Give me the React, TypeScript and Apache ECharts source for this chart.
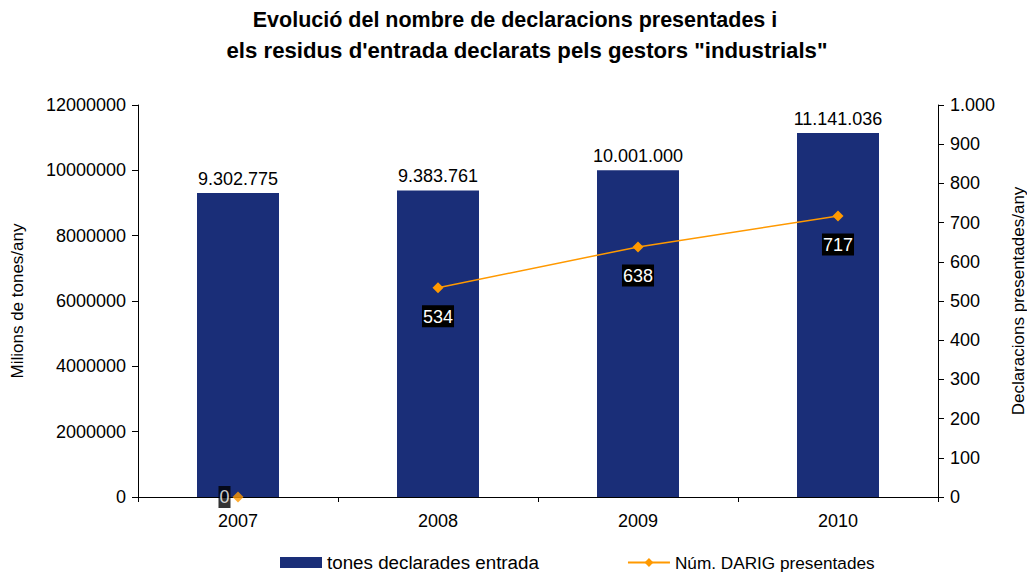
import React, { useEffect, useRef } from "react";
import * as echarts from "echarts";

const categories = ["2007", "2008", "2009", "2010"];
const tonesValues = [9302775, 9383761, 10001000, 11141036];
const darigValues = [0, 534, 638, 717];
const titleLines = [
  "Evolució del nombre de declaracions presentades i",
  "els residus d'entrada declarats pels gestors \"industrials\"",
];
const barName = "tones declarades entrada";
const lineName = "Núm. DARIG presentades";

const dots = (v: number) => String(Math.round(v)).replace(/\B(?=(\d{3})+(?!\d))/g, ".");

export default function App() {
  const ref = useRef<HTMLDivElement>(null);
  useEffect(() => {
    if (!ref.current) return;
    const chart = echarts.init(ref.current, undefined, { renderer: "svg" });
    const font = "'Liberation Sans', Arial, sans-serif";
    const pointLabel = {
      show: true,
      position: "bottom",
      distance: 12,
      color: "#fff",
      backgroundColor: "#000",
      padding: [3, 1, 1, 1],
      fontSize: 18,
      fontFamily: font,
    };
    chart.setOption({
      animation: false,
      textStyle: { fontFamily: font },
      title: [
        {
          text: titleLines[0],
          left: 515,
          textAlign: "center",
          top: 8,
          padding: 0,
          textStyle: { fontFamily: font, fontSize: 21.5, fontWeight: "bold", color: "#000", lineHeight: 24 },
        },
        {
          text: titleLines[1],
          left: 527,
          textAlign: "center",
          top: 38,
          padding: 0,
          textStyle: { fontFamily: font, fontSize: 22.2, fontWeight: "bold", color: "#000", lineHeight: 24 },
        },
      ],
      grid: { left: 138, right: 89, top: 105, bottom: 77, outerBoundsMode: "none", containLabel: false },
      legend: {
        left: 275,
        top: 548,
        itemWidth: 42,
        itemHeight: 11,
        itemGap: 88,
        textStyle: { fontFamily: font, fontSize: 19, color: "#000" },
        data: [
          { name: barName, icon: "rect", textStyle: { fontSize: 18.8 } },
          { name: lineName, textStyle: { fontSize: 17.2 } },
        ],
      },
      xAxis: {
        type: "category",
        data: categories,
        axisLine: { lineStyle: { color: "#000", width: 1 } },
        axisTick: { show: true, interval: 0, length: 5, lineStyle: { color: "#000" } },
        axisLabel: { color: "#000", fontSize: 18, margin: 15, fontFamily: font },
      },
      yAxis: [
        {
          type: "value",
          min: 0,
          max: 12000000,
          interval: 2000000,
          name: "Milions de tones/any",
          nameLocation: "middle",
          nameGap: 112,
          nameTextStyle: { color: "#000", fontSize: 17, fontFamily: font },
          axisLine: { show: true, lineStyle: { color: "#000" } },
          axisTick: { show: true, length: 6, lineStyle: { color: "#000" } },
          axisLabel: { color: "#000", fontSize: 18, margin: 12, fontFamily: font, formatter: (v: number) => String(v) },
          splitLine: { show: false },
        },
        {
          type: "value",
          min: 0,
          max: 1000,
          interval: 100,
          position: "right",
          name: "Declaracions presentades/any",
          nameLocation: "middle",
          nameGap: 72,
          nameRotate: 90,
          nameTextStyle: { color: "#000", fontSize: 17, fontFamily: font },
          axisLine: { show: true, lineStyle: { color: "#000" } },
          axisTick: { show: true, length: 6, lineStyle: { color: "#000" } },
          axisLabel: { color: "#000", fontSize: 18, margin: 12, fontFamily: font, formatter: (v: number) => dots(v) },
          splitLine: { show: false },
        },
      ],
      series: [
        {
          name: barName,
          type: "bar",
          data: tonesValues,
          barWidth: "41%",
          itemStyle: { color: "#1A2E78" },
          label: {
            show: true,
            position: "top",
            distance: 5,
            color: "#000",
            fontSize: 18,
            fontFamily: font,
            formatter: (p: any) => dots(p.value),
          },
        },
        {
          name: lineName,
          type: "line",
          yAxisIndex: 1,
          data: darigValues.map((v, i) => (i === 0 ? "-" : v)),
          symbol: "diamond",
          symbolSize: 11,
          lineStyle: { color: "#FF9900", width: 1.5 },
          itemStyle: { color: "#FF9900" },
          label: pointLabel,
        },
        {
          name: lineName + " (inicial)",
          type: "scatter",
          yAxisIndex: 1,
          data: [[categories[0], darigValues[0]]],
          symbol: "diamond",
          symbolSize: 11,
          itemStyle: { color: "#FF9900" },
          label: { ...pointLabel, position: "left", distance: 2 },
        },
      ],
    });
    return () => chart.dispose();
  }, []);
  return <div ref={ref} style={{ width: 1027, height: 574, position: "absolute", left: 0, top: 0 }} />;
}
